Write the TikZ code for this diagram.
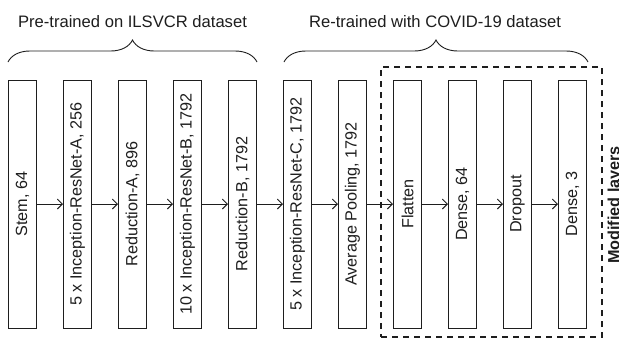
\documentclass[tikz,border=0pt]{standalone}
\usepackage{fontspec}
\setmainfont{Liberation Sans}
\usetikzlibrary{arrows.meta,decorations.pathreplacing}
\definecolor{ink}{HTML}{1E1E1E}
\tikzset{
  layer/.style={draw=ink, line width=1pt, rotate=90, minimum width=248pt, minimum height=28pt,
    inner sep=0pt, text=ink, font=\fontsize{16.2}{18}\selectfont},
  flow/.style={draw=ink, line width=0.9pt, -{Straight Barb[length=5pt,width=10pt,line width=0.9pt]}},
  bracepath/.style={draw=ink, line width=0.9pt, decorate, decoration={brace, amplitude=22pt}},
  caption/.style={text=ink, font=\fontsize{16.6}{19}\selectfont, inner sep=0pt},
  modframe/.style={draw=ink, line width=2pt, dash pattern=on 6pt off 5pt, minimum width=221pt, minimum height=270pt, inner sep=0pt}
}
\begin{document}
\begin{tikzpicture}[x=1pt,y=-1pt]
\useasboundingbox[fill=white] (0,0) rectangle (619,341);
\node[modframe] (mod) at (491.5,202) {};
\node[layer] (l1) at (22.5,204) {Stem, 64};
\node[layer] (l2) at (77.5,204) {5 x Inception-ResNet-A, 256};
\node[layer] (l3) at (132.5,204) {Reduction-A, 896};
\node[layer] (l4) at (187.5,204) {10 x Inception-ResNet-B, 1792};
\node[layer] (l5) at (242.5,204) {Reduction-B, 1792};
\node[layer] (l6) at (297.5,204) {5 x Inception-ResNet-C, 1792};
\node[layer] (l7) at (352.5,204) {Average Pooling, 1792};
\node[layer] (l8) at (407.5,204) {Flatten};
\node[layer] (l9) at (462.5,204) {Dense, 64};
\node[layer] (l10) at (517.5,204) {Dropout};
\node[layer] (l11) at (572.5,204) {Dense, 3};
\foreach \a/\b in {l1/l2,l2/l3,l3/l4,l4/l5,l5/l6,l6/l7,l7/l8,l8/l9,l9/l10,l10/l11}
  \draw[flow] (\a.south) -- (\b.north);
\node[rotate=90, anchor=north, inner sep=0pt, text=ink, font=\bfseries\fontsize{16.2}{18}\selectfont] (modlabel) at (607.5,205) {Modified layers};
\draw[bracepath] (8,62) -- (257,62);
\draw[bracepath] (284,62) -- (588,62);
\node[caption] (cap1) at (132.5,22) {Pre-trained on ILSVCR dataset};
\node[caption] (cap2) at (435,22) {Re-trained with COVID-19 dataset};
\end{tikzpicture}
\end{document}
